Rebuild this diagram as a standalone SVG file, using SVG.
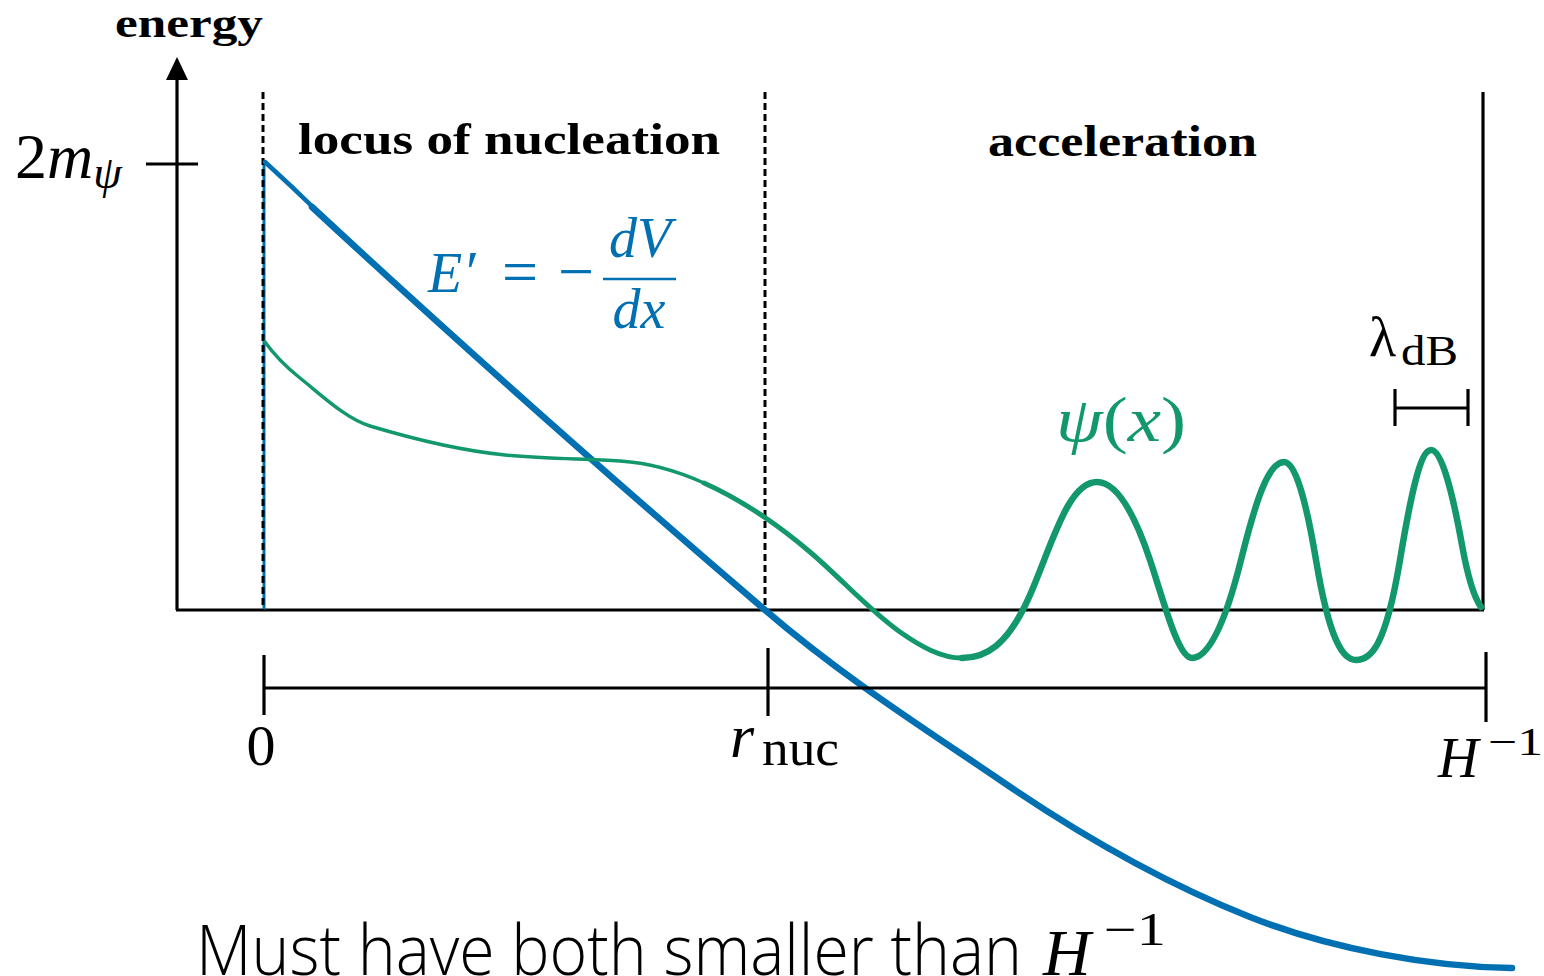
<svg xmlns="http://www.w3.org/2000/svg" width="1544" height="976" viewBox="0 0 1544 976">
<style>
.ser{font-family:"Liberation Serif","DejaVu Serif",serif;fill:#000}
.it{font-style:italic}
.bold{font-weight:bold}
.blue{fill:#0070b2}
.green{fill:#13986d}
.ax{stroke:#000;stroke-width:3.2;fill:none}
.dash{stroke:#000;stroke-width:3;stroke-dasharray:7 4;fill:none}
.bc{stroke:#0070b2;fill:none;stroke-linecap:round;stroke-linejoin:round}
.gc{stroke:#13986d;fill:none;stroke-linecap:round;stroke-linejoin:round}
.sans{font-family:"Open Sans","Lato","Liberation Sans",sans-serif;font-weight:300;fill:#000}
</style>
<rect width="1544" height="976" fill="#fff"/>
<g id="axes">
<line class="ax" x1="177" y1="76" x2="177" y2="610"/>
<polygon points="177,57 166,80 188,80" fill="#000"/>
<line class="ax" x1="176" y1="610" x2="1484" y2="610"/>
<line class="ax" x1="146" y1="164" x2="198" y2="164"/>
<line class="ax" x1="1483" y1="92" x2="1483" y2="610"/>
<text class="ser bold" x="115" y="37" font-size="40" textLength="148" lengthAdjust="spacingAndGlyphs">energy</text>
<text class="ser" x="15" y="178" font-size="64">2<tspan class="it">m</tspan><tspan class="it" font-size="46" dy="10">ψ</tspan></text>
</g>
<g id="regions">
<line x1="264" y1="160" x2="264" y2="610" stroke="#0070b2" stroke-width="3"/>
<line class="dash" x1="263" y1="92" x2="263" y2="610"/>
<line class="dash" x1="765" y1="92" x2="765" y2="610"/>
<text class="ser bold" x="298" y="154" font-size="44" textLength="422" lengthAdjust="spacingAndGlyphs">locus of nucleation</text>
<text class="ser bold" x="988" y="156" font-size="44" textLength="269" lengthAdjust="spacingAndGlyphs">acceleration</text>
</g>
<g id="connectors">
<path class="bc" stroke-width="4.5" d="M265,162 L292,187 L318,212"/>
<path class="bc" stroke-width="6.5" d="M312,207 Q520,400 765,610 C843,677 922,727 1000,780 C1083,837 1167,884 1250,917 C1331,949 1430,967 1512,968"/>
<path class="gc" stroke-width="3.5" d="M265,342 C276.7,358.3 288.3,368.7 300,378 C323.3,396.7 346.7,419 370,426 C415,439.5 460,450.5 505,455 C543.3,458.8 581.7,458.7 620,461 C648,462.7 676,470.4 704,483"/>
<path class="gc" stroke-width="5" d="M704,483 C739.3,498.9 774.7,522 810,552 C840,577.5 870,611 900,632 C920.7,646.5 941.3,658 962,658"/>
<path class="gc" stroke-width="6.5" d="M962,658 C984.7,658 1007.3,647 1030,595 C1052.3,543.7 1068,482 1097,482 C1114.7,482 1132.3,507 1150,560 C1164,602 1178,658 1192,658 C1208.3,658 1224.7,625.3 1241,560 C1255.3,502.7 1268,462 1284,462 C1294.7,462 1305.3,496 1316,560 C1329.3,640 1342.7,660 1356,660 C1370.7,660 1385.3,648 1400,560 C1410.3,498 1420,450 1431,450 C1441.3,450 1451.7,488.3 1462,545 C1468.3,579.7 1474.7,598.5 1481,607"/>
</g>
<g id="formula-E">
<text class="ser it blue" x="428" y="292" font-size="56">E</text>
<text class="ser blue" x="466" y="292" font-size="60">′</text>
<text class="ser blue" x="520" y="293" font-size="64" text-anchor="middle">=</text>
<text class="ser blue" x="576" y="293" font-size="64" text-anchor="middle">−</text>
<line x1="603" y1="279" x2="676" y2="279" stroke="#0070b2" stroke-width="2.5"/>
<text class="ser it blue" x="640" y="257" font-size="56" text-anchor="middle">dV</text>
<text class="ser it blue" x="639" y="328" font-size="56" text-anchor="middle">dx</text>
</g>
<g id="psi-label">
<text class="ser green" x="1056" y="441" font-size="64" textLength="130" lengthAdjust="spacingAndGlyphs"><tspan class="it">ψ</tspan>(<tspan class="it">x</tspan>)</text>
</g>
<g id="lambda">
<text class="ser" x="1369" y="356" font-size="56">λ</text>
<text class="ser" x="1401" y="365" font-size="42" textLength="57" lengthAdjust="spacingAndGlyphs">dB</text>
<line class="ax" x1="1395" y1="408" x2="1468" y2="408"/>
<line class="ax" x1="1395" y1="389" x2="1395" y2="426"/>
<line class="ax" x1="1468" y1="389" x2="1468" y2="426"/>
</g>
<g id="scale">
<line class="ax" x1="264" y1="688" x2="1486" y2="688"/>
<line class="ax" x1="264" y1="655" x2="264" y2="715"/>
<line class="ax" x1="768" y1="648" x2="768" y2="716"/>
<line class="ax" x1="1486" y1="652" x2="1486" y2="722"/>
<text class="ser" x="261" y="765" font-size="58" text-anchor="middle">0</text>
<text class="ser it" x="730" y="757" font-size="62">r</text>
<text class="ser" x="762" y="765" font-size="50" textLength="77" lengthAdjust="spacingAndGlyphs">nuc</text>
<text class="ser it" x="1438" y="777" font-size="56">H</text>
<text class="ser" x="1488" y="755" font-size="40" textLength="55" lengthAdjust="spacingAndGlyphs">−1</text>
</g>
<g id="note">
<text class="sans" x="196" y="975" font-size="70" textLength="826" lengthAdjust="spacingAndGlyphs">Must have both smaller than</text>
<text class="ser it" x="1043" y="975" font-size="66">H</text>
<text class="ser" x="1104" y="945" font-size="46" textLength="62" lengthAdjust="spacingAndGlyphs">−1</text>
</g>
</svg>
